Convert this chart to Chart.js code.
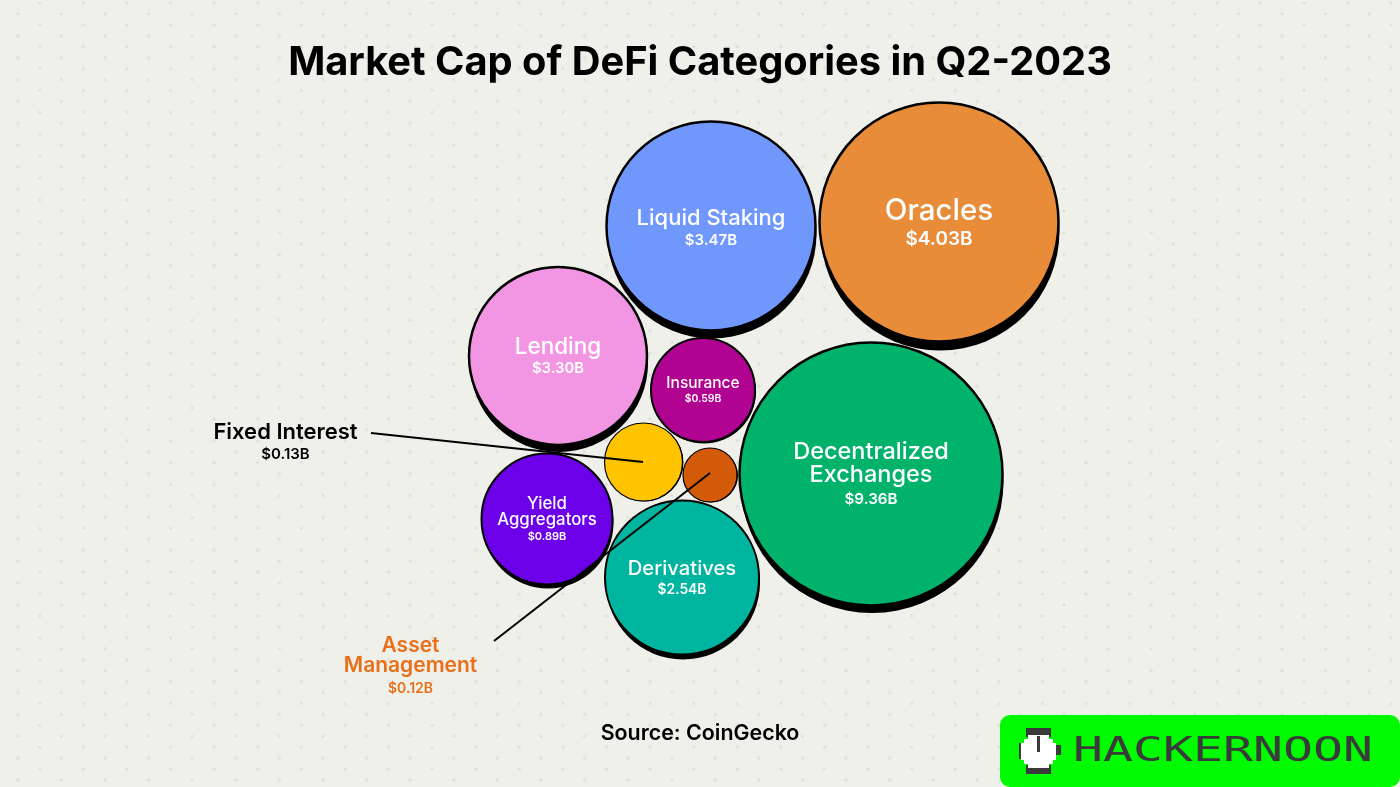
<!DOCTYPE html>
<html>
<head>
<meta charset="utf-8">
<title>Market Cap of DeFi Categories in Q2-2023</title>
<script src="https://cdn.jsdelivr.net/npm/chart.js@4"></script>
<style>
  html, body { margin: 0; padding: 0; }
  body {
    width: 1400px; height: 787px; overflow: hidden;
    background-color: #f0f0eb;
    background-image:
      radial-gradient(circle, #dedfd9 1.2px, transparent 1.9px),
      radial-gradient(circle, #dedfd9 1.2px, transparent 1.9px);
    background-size: 43.6px 21.9px;
    background-position: -4px 3px, 18px -8px;
  }
  canvas { display: block; }
</style>
</head>
<body>
<canvas id="bubbles" width="1400" height="787"></canvas>
<script>
// Values in billions of USD
const categories = ["Liquid Staking", "Oracles", "Lending", "Insurance", "Decentralized Exchanges",
  "Fixed Interest", "Asset Management", "Yield Aggregators", "Derivatives"];
const marketCap = [3.47, 4.03, 3.30, 0.59, 9.36, 0.13, 0.12, 0.89, 2.54];

// Bubble layout (the radius is not proportional to the value there)
const bubbleX = [711, 939, 558, 703, 871, 643.5, 710, 547, 682];
const bubbleY = [226, 222, 356, 390, 474, 462, 475, 519, 577.5];
const bubbleR = [104.5, 119.5, 89, 52, 131.5, 39, 27, 65.5, 77];
const shadowDrop = [8, 9, 7, 1.5, 7.5, 0.5, 0.5, 4, 5];
const bubbleBorder = [2.5, 2.5, 2.5, 2, 2.5, 1.2, 1.2, 2, 2];
const bubbleColors = ["#7097fb", "#e88c3a", "#f296e4", "#b00391", "#00b26a",
  "#ffc400", "#d35a08", "#6c00e8", "#00b5a0"];

// Leader lines for the two labels outside their bubbles
const fixedLineX = [371, 643];
const fixedLineY = [433, 462];
const assetLineX = [494, 710];
const assetLineY = [641, 473];

// Label text and where it sits
const labelLines = [["Liquid Staking"], ["Oracles"], ["Lending"], ["Insurance"], ["Decentralized", "Exchanges"],
  ["Fixed Interest"], ["Asset", "Management"], ["Yield", "Aggregators"], ["Derivatives"]];
const labelX = [711, 939, 558, 703, 871, 285.5, 410.5, 547, 682];
const labelY = [218, 211, 347, 383, 452, 432, 646, 504, 569];
const valueX = [711, 939, 558, 703, 871, 285.5, 410.5, 547, 682];
const valueY = [240, 239, 369, 399, 499, 454, 689, 537, 590];
const lineGap = [0, 0, 0, 0, 23, 0, 20, 16, 0];
const nameSize = [22, 29.5, 22.5, 15.5, 23.5, 22, 21, 16.8, 20.2];
const nameWeight = [500, 500, 500, 500, 500, 600, 600, 500, 500];
const valueSize = [15, 19, 14.8, 10.4, 15.2, 15, 14, 11, 13.8];
const labelColors = ["#fff", "#fff", "#fff", "#fff", "#fff", "#000", "#e8701a", "#fff", "#fff"];

const FONT = "Inter, 'Noto Sans', sans-serif";

function toPoints(xs, ys) {
  return xs.map((x, i) => ({ x: x, y: ys[i] }));
}

// Category names and values, plus the logo in the corner
const labelPlugin = {
  id: "bubbleLabels",
  afterDraw(chart) {
    const ctx = chart.ctx;
    const sx = chart.scales.x;
    const sy = chart.scales.y;
    ctx.save();
    ctx.textAlign = "center";
    ctx.textBaseline = "middle";
    categories.forEach((name, i) => {
      ctx.fillStyle = labelColors[i];
      ctx.font = nameWeight[i] + " " + nameSize[i] + "px " + FONT;
      labelLines[i].forEach((line, k) => {
        ctx.fillText(line, sx.getPixelForValue(labelX[i]), sy.getPixelForValue(labelY[i] + k * lineGap[i]));
      });
      ctx.font = "600 " + valueSize[i] + "px " + FONT;
      ctx.fillText("$" + marketCap[i].toFixed(2) + "B", sx.getPixelForValue(valueX[i]), sy.getPixelForValue(valueY[i]));
    });
    drawLogo(ctx);
    ctx.restore();
  }
};

function drawLogo(ctx) {
  ctx.fillStyle = "#00fa00";
  ctx.beginPath();
  ctx.roundRect(1000, 715, 400, 72, 10);
  ctx.fill();

  // Pixel watch
  ctx.fillStyle = "#3a3a3a";
  ctx.fillRect(1026, 728, 25, 9);
  ctx.fillRect(1026, 765, 25, 9);
  ctx.fillRect(1019, 743, 3, 16);
  ctx.fillRect(1056, 745, 5, 10);
  ctx.fillStyle = "#fff";
  ctx.fillRect(1028, 735, 21, 33);
  ctx.fillRect(1024, 739, 29, 25);
  ctx.fillRect(1021, 743, 35, 17);
  ctx.fillStyle = "#3a3a3a";
  ctx.fillRect(1037, 736, 3, 16);

  // Wordmark, stretched to the wide letters of the original
  ctx.save();
  ctx.fillStyle = "#3a3a3a";
  ctx.font = "400 33px 'DejaVu Sans Mono', monospace";
  ctx.textAlign = "left";
  ctx.textBaseline = "middle";
  ctx.translate(1073, 752);
  ctx.scale(1.51, 1);
  ctx.fillText("HACKERNOON", 0, 0);
  ctx.restore();
}

new Chart(document.getElementById("bubbles"), {
  type: "bubble",
  data: {
    datasets: [
      {
        type: "line",
        data: toPoints(fixedLineX, fixedLineY),
        borderColor: "#000",
        borderWidth: 2,
        pointRadius: 0,
        order: 1
      },
      {
        type: "line",
        data: toPoints(assetLineX, assetLineY),
        borderColor: "#000",
        borderWidth: 2,
        pointRadius: 0,
        order: 1
      },
      {
        label: "Market cap",
        data: bubbleX.map((x, i) => ({ x: x, y: bubbleY[i], r: bubbleR[i] })),
        backgroundColor: bubbleColors,
        borderColor: "#000",
        borderWidth: bubbleBorder,
        hoverRadius: 0,
        order: 2
      },
      {
        label: "Shadow",
        data: bubbleX.map((x, i) => ({ x: x + 1, y: bubbleY[i] + shadowDrop[i], r: bubbleR[i] })),
        backgroundColor: "#000",
        borderWidth: 0,
        hoverRadius: 0,
        order: 3
      }
    ]
  },
  options: {
    responsive: false,
    animation: false,
    layout: { padding: 0, autoPadding: false },
    events: [],
    scales: {
      x: { type: "linear", display: false, min: 0, max: 1400 },
      y: { type: "linear", display: false, min: 100, max: 721, reverse: true }
    },
    plugins: {
      legend: { display: false },
      tooltip: { enabled: false },
      title: {
        display: true,
        text: "Market Cap of DeFi Categories in Q2-2023",
        color: "#000",
        font: { family: FONT, size: 39.8, weight: "700", lineHeight: 1.206 },
        padding: { top: 39, bottom: 13 }
      },
      subtitle: {
        display: true,
        position: "bottom",
        text: "Source: CoinGecko",
        color: "#000",
        font: { family: FONT, size: 21.4, weight: "600", lineHeight: 1.215 },
        padding: { top: 0, bottom: 40 }
      }
    }
  },
  plugins: [labelPlugin]
});
</script>
</body>
</html>
